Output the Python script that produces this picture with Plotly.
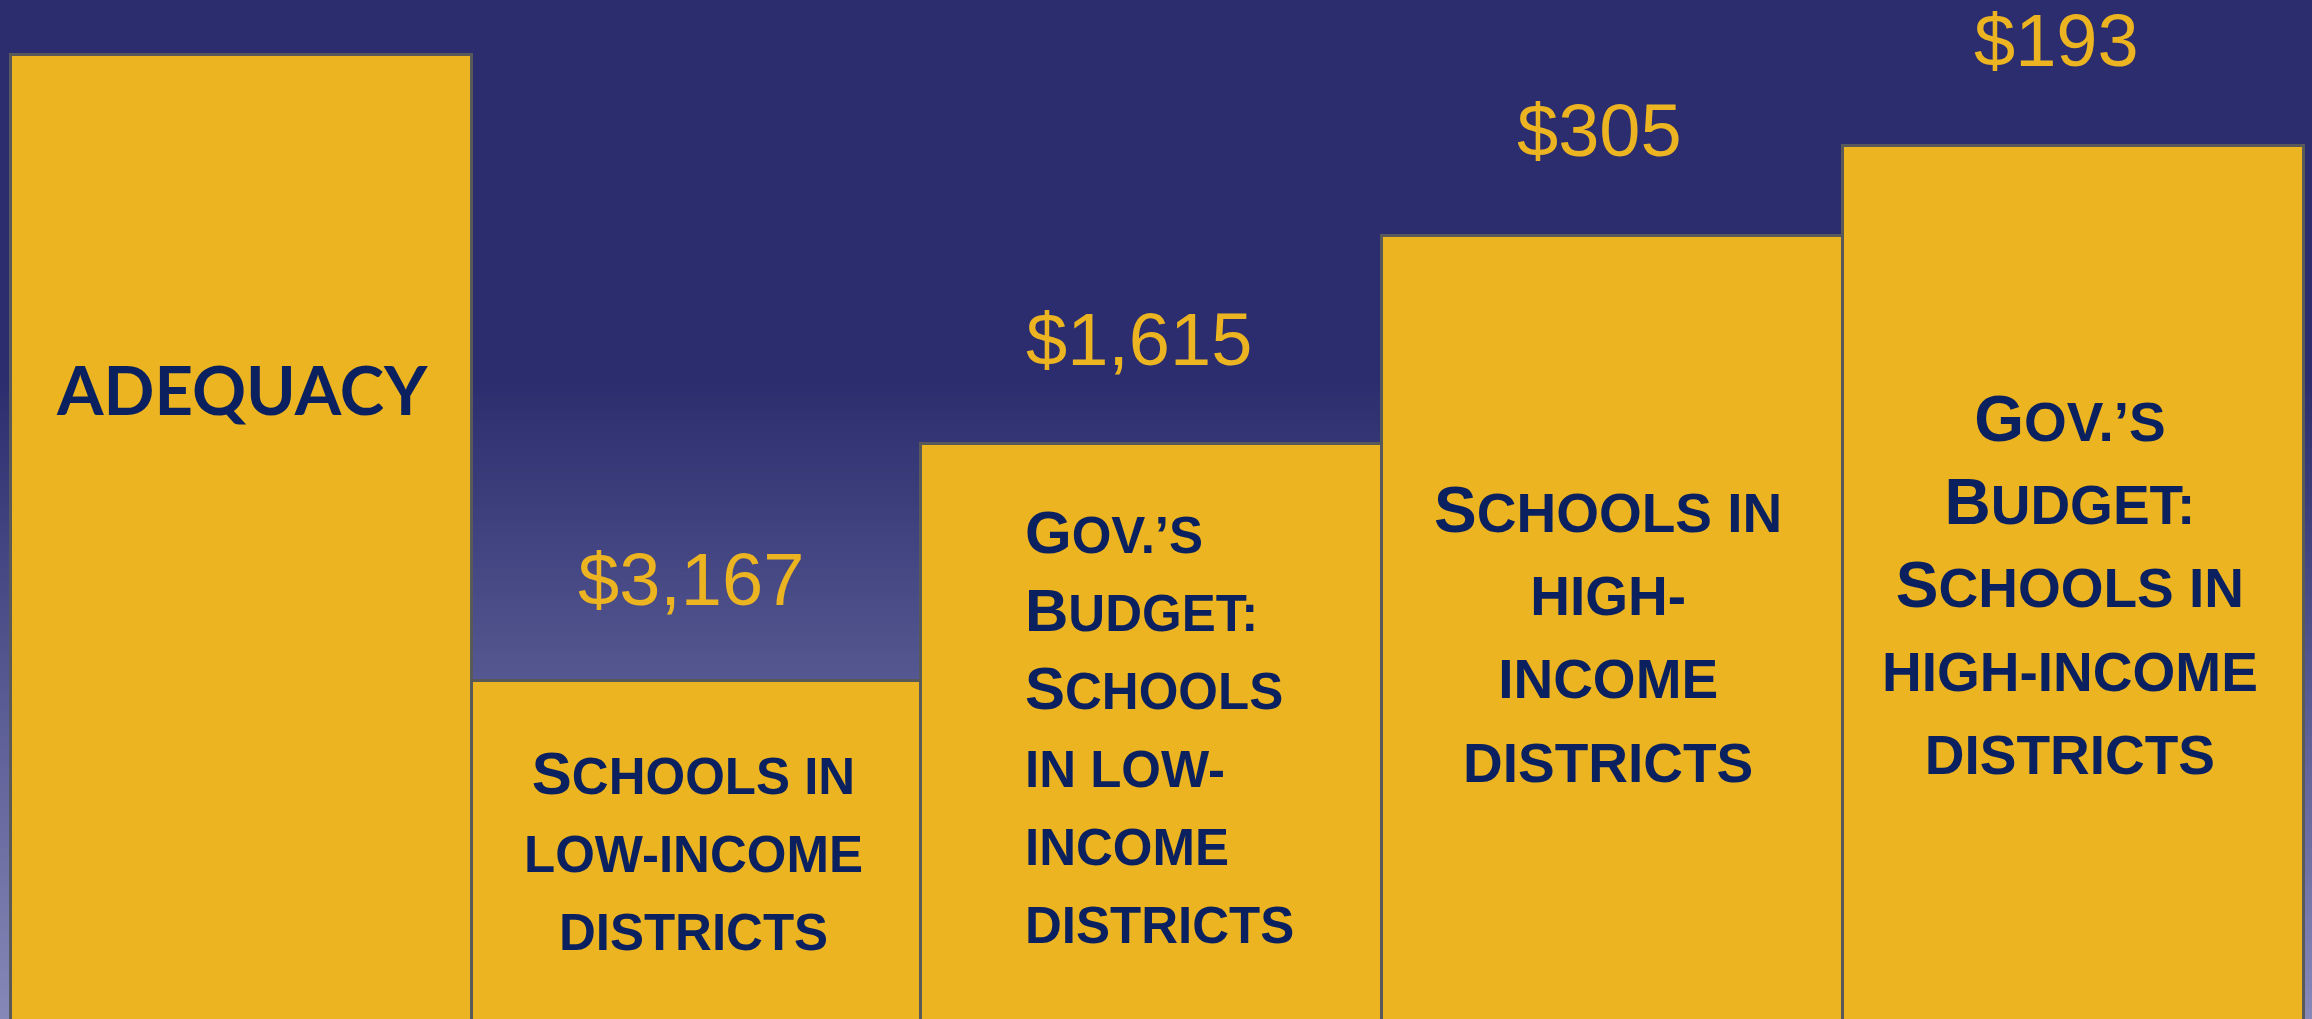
import plotly.graph_objects as go

# ---------------- data ----------------
categories = [
    "Adequacy",
    "Schools in low-income districts",
    "Gov.’s Budget: Schools in low-income districts",
    "Schools in high-income districts",
    "Gov.’s Budget: Schools in high-income districts",
]
# bar heights as drawn (illustrative, not to scale)
bar_heights = [967, 341, 578, 786, 876]
# gap to adequacy (per student)
gap_labels = ["", "$3,167", "$1,615", "$305", "$193"]
# label lines (small caps rendering: capitals big, lowercase as small capitals)
label_lines = [
    ["ADEQUACY"],
    ["Schools in", "low-income", "districts"],
    ["Gov.’s", "Budget:", "Schools", "in low-", "income", "districts"],
    ["Schools in", "high-", "income", "districts"],
    ["Gov.’s", "Budget:", "Schools in", "high-income", "districts"],
]

# ---------------- style ----------------
W, H = 2312, 1019
BAR_FILL = "#EBB420"
BAR_LINE = "#595959"
NAVY = "#0A205F"
GOLD = "#EBB420"
FONT = "Liberation Sans"
label_fonts = ["Lato", FONT, FONT, FONT, FONT]
big_sizes = [67, 60, 60, 64, 64]
small_sizes = [67, 51, 51, 55, 55]
label_align = ["center", "center", "left", "center", "center"]
label_xanchor = ["center", "center", "left", "center", "center"]
label_xshift = [0, -3, -129, -5, -4]
label_yshift = [148, 0, 5, -6, -2]
gap_xshift = [0, -6, -13, -13, -17]
gap_yshift = [0, 58, 61, 62, 62]
bar_widths = [1.0, 0.976, 1.0, 1.0, 1.0]
bar_offsets = [-0.5, -0.5, -0.526, -0.526, -0.526]
UNIT = 461.0
LEFT_PX = 11


def small_caps(line, small):
    out = []
    buf = ""
    for ch in line:
        if ch.isupper():
            if buf:
                out.append(f'<span style="font-size:{small}px">{buf.upper()}</span>')
                buf = ""
            out.append(ch)
        else:
            buf += ch
    if buf:
        out.append(f'<span style="font-size:{small}px">{buf.upper()}</span>')
    return "".join(out)


fig = go.Figure()
fig.add_trace(go.Bar(
    x=categories, y=bar_heights,
    marker=dict(color=BAR_FILL, line=dict(color=BAR_LINE, width=3)),
    width=bar_widths, offset=bar_offsets, hoverinfo="skip", showlegend=False,
))

# background gradient stripes
top_rgb = (43, 45, 110)
bot_rgb = (134, 136, 184)
g_start = 380
step = 4
shapes = []
y = g_start
while y < H:
    f = (y + step / 2 - g_start) / (H - g_start)
    c = tuple(round(top_rgb[k] + (bot_rgb[k] - top_rgb[k]) * f) for k in range(3))
    shapes.append(dict(type="rect", xref="paper", yref="paper", x0=0, x1=1,
                       y0=1 - (y + step) / H, y1=1 - y / H + 0.0005,
                       fillcolor=f"rgb{c}", line=dict(width=0), layer="below"))
    y += step

annotations = []
y_bottom = 3
for i, cat in enumerate(categories):
    xs = (bar_offsets[i] + bar_widths[i] / 2) * UNIT
    lines = label_lines[i]
    text = "<br>".join(small_caps(l, small_sizes[i]) for l in lines)
    annotations.append(dict(
        x=cat, y=(bar_heights[i] + y_bottom) / 2, xref="x", yref="y",
        text=text, showarrow=False, xanchor=label_xanchor[i], yanchor="middle",
        align=label_align[i], yshift=label_yshift[i], xshift=xs + label_xshift[i],
        font=dict(family=label_fonts[i], size=big_sizes[i], color=NAVY, weight="bold"),
    ))
    if gap_labels[i]:
        annotations.append(dict(
            x=cat, y=bar_heights[i], xref="x", yref="y",
            text=gap_labels[i], showarrow=False, xanchor="center", yanchor="bottom",
            yshift=gap_yshift[i], xshift=xs + gap_xshift[i],
            font=dict(family=FONT, size=74, color=GOLD),
        ))

fig.update_layout(
    width=W, height=H, autosize=False,
    margin=dict(l=0, r=0, t=0, b=0, pad=0),
    paper_bgcolor="rgb(43,45,110)", plot_bgcolor="rgba(0,0,0,0)",
    bargap=0, showlegend=False,
    font=dict(family=FONT),
    xaxis=dict(visible=False, range=[-0.5 - LEFT_PX / UNIT, -0.5 + (W - LEFT_PX) / UNIT]),
    yaxis=dict(visible=False, range=[y_bottom, H + y_bottom]),
    shapes=shapes, annotations=annotations,
)

fig.write_html("out.html", config={"displayModeBar": False},
               post_script="document.body.style.margin='0';document.body.style.overflow='hidden';")
